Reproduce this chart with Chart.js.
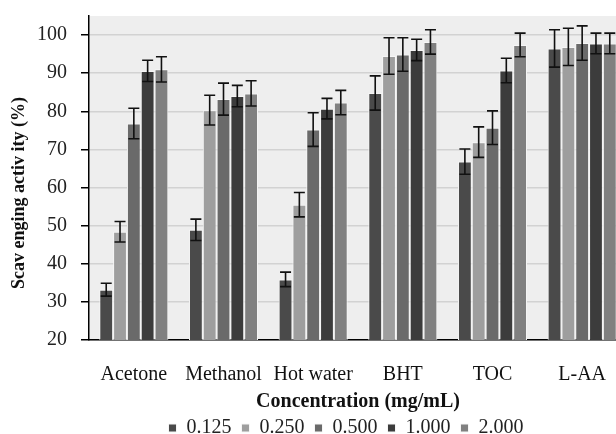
<!DOCTYPE html>
<html>
<head>
<meta charset="utf-8">
<script src="https://cdn.jsdelivr.net/npm/chart.js@4/dist/chart.umd.min.js"></script>
<style>
    html, body { margin: 0; padding: 0; background: #fff; overflow: hidden; }
    #wrap { width: 692px; height: 434px; position: relative; }
</style>
</head>
<body>
<div id="wrap"><canvas id="chart"></canvas></div>
<script>
// Chart values
const categories = ['Acetone', 'Methanol', 'Hot water', 'BHT', 'TOC', 'L-AA'];
const concentrations = ['0.125', '0.250', '0.500', '1.000', '2.000'];

const c0125 = [33.2, 48.9, 35.9, 84.8, 66.8, 96.5];
const c0250 = [48.4, 80.3, 55.5, 94.5, 71.9, 96.9];
const c0500 = [76.8, 83.2, 75.2, 94.9, 75.7, 97.9];
const c1000 = [90.6, 84.0, 80.7, 96.1, 90.7, 97.8];
const c2000 = [91.0, 84.7, 82.3, 98.2, 97.4, 97.8];

// error bar half-widths
const e0125 = [1.7, 2.8, 1.9, 4.5, 3.3, 4.9];
const e0250 = [2.7, 3.9, 3.2, 4.8, 4.0, 4.9];
const e0500 = [4.0, 4.2, 4.4, 4.4, 4.4, 4.5];
const e1000 = [2.8, 2.8, 2.7, 2.8, 3.2, 2.7];
const e2000 = [3.3, 3.3, 3.2, 3.2, 3.1, 2.7];

const yTicks = [20, 30, 40, 50, 60, 70, 80, 90, 100];
const yTitle = 'Scav enging activ ity (%)';

const seriesValues = [c0125, c0250, c0500, c1000, c2000];
const seriesErrors = [e0125, e0250, e0500, e1000, e2000];
const seriesColors = ['#4a4a4a', '#9e9e9e', '#6a6a6a', '#3c3c3c', '#808080'];

const serif = "'Liberation Serif', 'Times New Roman', serif";

// grey plot background
const plotBackground = {
    id: 'plotBackground',
    beforeDraw(chart) {
        const { ctx, chartArea: a } = chart;
        ctx.save();
        ctx.fillStyle = '#eeeeee';
        ctx.fillRect(a.left, a.top, a.right - a.left, a.bottom - a.top);
        ctx.restore();
    }
};

// error bars drawn through the y scale
const errorBars = {
    id: 'errorBars',
    afterDatasetsDraw(chart) {
        const ctx = chart.ctx;
        const y = chart.scales.y;
        ctx.save();
        ctx.strokeStyle = '#111';
        ctx.lineWidth = 1.6;
        chart.data.datasets.forEach((ds, i) => {
            const meta = chart.getDatasetMeta(i);
            meta.data.forEach((bar, j) => {
                const v = ds.data[j];
                const e = ds.errors[j];
                const top = y.getPixelForValue(v + e);
                const bot = y.getPixelForValue(v - e);
                const cap = 5.5;
                ctx.beginPath();
                ctx.moveTo(bar.x, top);
                ctx.lineTo(bar.x, bot);
                ctx.moveTo(bar.x - cap, top);
                ctx.lineTo(bar.x + cap, top);
                ctx.moveTo(bar.x - cap, bot);
                ctx.lineTo(bar.x + cap, bot);
                ctx.stroke();
            });
        });
        ctx.restore();
    }
};

// y title sits a little below the plot middle in the original
const yAxisTitle = {
    id: 'yAxisTitle',
    afterDraw(chart) {
        const ctx = chart.ctx;
        ctx.save();
        ctx.translate(19, 193);
        ctx.rotate(-Math.PI / 2);
        ctx.font = 'bold 18px ' + serif;
        ctx.fillStyle = '#111';
        ctx.textAlign = 'center';
        ctx.textBaseline = 'middle';
        ctx.fillText(yTitle, 0, 0);
        ctx.restore();
    }
};

const datasets = concentrations.map((label, i) => ({
    label: label,
    data: seriesValues[i],
    errors: seriesErrors[i],
    backgroundColor: seriesColors[i],
    borderColor: '#f6f6f6',
    borderWidth: 1,
    categoryPercentage: 0.77,
    barPercentage: 1.0
}));

new Chart(document.getElementById('chart').getContext('2d'), {
    type: 'bar',
    data: { labels: categories, datasets: datasets },
    options: {
        responsive: true,
        maintainAspectRatio: false,
        animation: false,
        layout: { padding: { top: 16, right: 0, left: 0, bottom: -14 } },
        plugins: {
            legend: {
                position: 'bottom',
                labels: {
                    color: '#222',
                    font: { family: serif, size: 20 },
                    boxWidth: 8,
                    boxHeight: 8,
                    padding: 10
                }
            },
            tooltip: { enabled: false }
        },
        scales: {
            x: {
                z: 1,
                grid: { display: false, drawTicks: false },
                border: { display: true, color: '#000', width: 1.5 },
                ticks: {
                    color: '#111',
                    font: { family: serif, size: 20 },
                    padding: 23,
                    maxRotation: 0,
                    autoSkip: false
                },
                title: {
                    display: true,
                    text: 'Concentration (mg/mL)',
                    color: '#111',
                    font: { family: serif, size: 20, weight: 'bold' },
                    padding: { top: -20, bottom: -6 }
                }
            },
            y: {
                min: 20,
                max: 105,
                afterBuildTicks(axis) {
                    axis.ticks = yTicks.map(v => ({ value: v }));
                },
                afterFit(axis) {
                    axis.width = 89;
                    axis.paddingTop = 0;
                    axis.paddingBottom = 0;
                },
                grid: {
                    color: '#d2d2d2',
                    lineWidth: 1.5,
                    tickColor: '#000',
                    tickLength: 8
                },
                border: { display: true, color: '#000', width: 1.5 },
                ticks: {
                    color: '#222',
                    font: { family: serif, size: 20 },
                    padding: 14
                }
            },
            // empty right-hand scale: pushes the plot past the window edge
            // while the legend stays centred on the full canvas
            spacer: {
                position: 'right',
                grid: { display: false },
                border: { display: false },
                ticks: { display: false },
                afterFit(scale) {
                    scale.width = 65;
                    scale.paddingTop = 0;
                    scale.paddingBottom = 0;
                }
            }
        }
    },
    plugins: [plotBackground, errorBars, yAxisTitle]
});
</script>
</body>
</html>
